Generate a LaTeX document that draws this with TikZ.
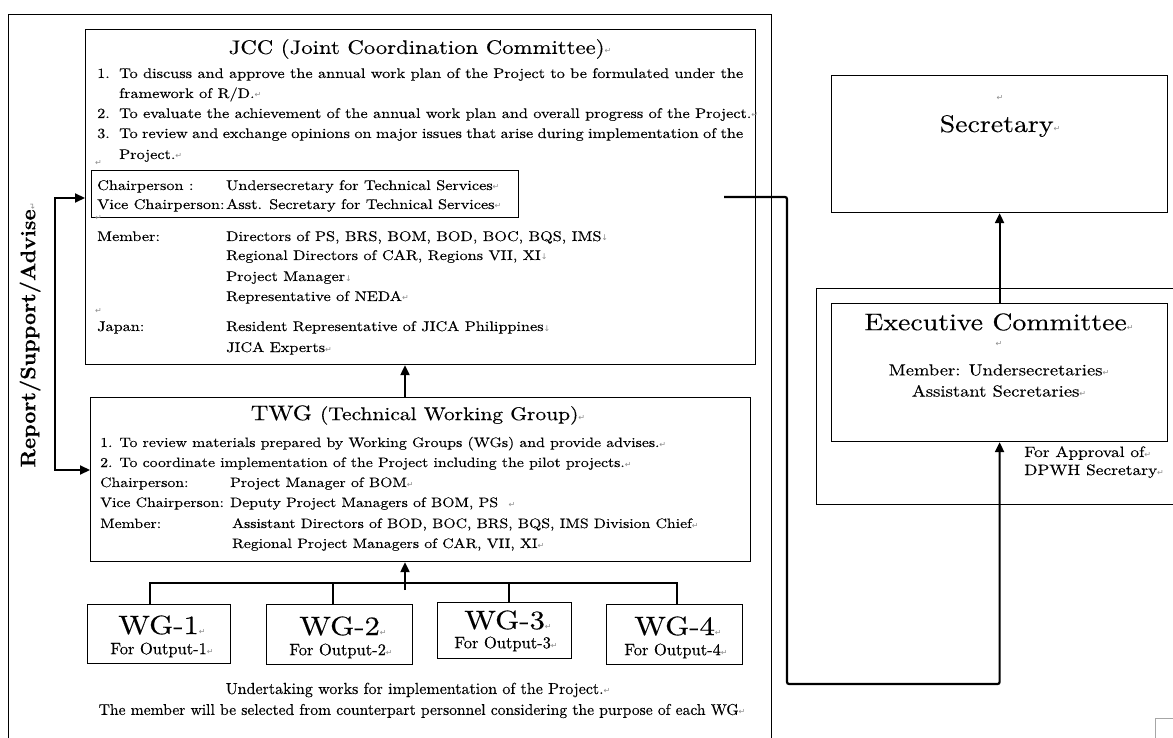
\documentclass[tikz,border=0pt]{standalone}
\usepackage{fontspec}
\setmainfont{lmroman10-regular.otf}[BoldFont=lmroman10-bold.otf, FakeStretch=1.16, FakeBold=0.25]
\newfontfamily\condfont{lmroman10-regular.otf}[FakeBold=0.25]
\newfontfamily\symfont{DejaVu Sans}
\usetikzlibrary{arrows.meta}
\newcommand\rt{{\symfont\fontsize{8}{8}\selectfont\color{black!45}↵}}
\newcommand\dn{{\symfont\fontsize{8}{8}\selectfont\color{black!45}↓}}
\newcommand\bodyf{\fontsize{14}{20}\selectfont}
\newcommand\twgf{\fontsize{13.6}{20}\selectfont}
\tikzset{
  frame/.style={draw, line width=1pt, anchor=north west, inner sep=0pt},
  box/.style={draw, line width=1.2pt, anchor=north west, inner sep=0pt},
  tl/.style={anchor=base west, inner sep=0pt, font=\bodyf},
  tw/.style={anchor=base west, inner sep=0pt, font=\twgf},
  ctr/.style={inner sep=0pt},
  conn/.style={line width=2.2pt},
  tip/.style={-{Triangle[length=10pt,width=9pt]}},
}
\begin{document}
\begin{tikzpicture}[x=1pt,y=-1pt]
\useasboundingbox (0,0) rectangle (1173,738);
\clip (0,0) rectangle (1173,738);
% frames
\node[frame, minimum width=763pt, minimum height=760pt] (leftframe) at (8,14) {};
\node[frame, minimum width=400pt, minimum height=216pt] (execframe) at (816,288) {};
% boxes
\node[box, minimum width=670pt, minimum height=335pt] (jcc) at (85,29) {};
\node[box, minimum width=427pt, minimum height=47pt] (chair) at (91,170) {};
\node[box, minimum width=660pt, minimum height=164pt] (twg) at (90,397) {};
\node[box, minimum width=143pt, minimum height=59pt] (wg1) at (87,604) {};
\node[box, minimum width=146pt, minimum height=60pt] (wg2) at (266,604) {};
\node[box, minimum width=134pt, minimum height=56pt] (wg3) at (437,602) {};
\node[box, minimum width=136pt, minimum height=60pt] (wg4) at (606,604) {};
\node[box, minimum width=336pt, minimum height=137pt] (sec) at (831,75) {};
\node[box, minimum width=336pt, minimum height=138pt] (exec) at (831,303) {};

% JCC text
\node[ctr] (jcct) at (420,49) {\fontsize{19.6}{19.6}\selectfont JCC (Joint Coordination Committee)\rt};
\node[tl] (j1n) at (97,78) {1.};
\node[tl] (j1) at (119,78) {\makebox[624pt][s]{To discuss and approve the annual work plan of the Project to be formulated under the}};
\node[tl] (j1b) at (119,98) {framework of R/D.\rt};
\node[tl] (j2n) at (97,118) {2.};
\node[tl] (j2) at (119,118) {To evaluate the achievement of the annual work plan and overall progress of the Project.\rt};
\node[tl] (j3n) at (97,138) {3.};
\node[tl] (j3) at (119,138) {\makebox[624pt][s]{To review and exchange opinions on major issues that arise during implementation of the}};
\node[tl] (j3b) at (119,159) {Project.\rt};
\node[tl] (jr1) at (95,166) {\rt};
\node[tl] (c1) at (97,190) {Chairperson :};
\node[tl] (c1v) at (226,190) {Undersecretary for Technical Services\rt};
\node[tl] (c2) at (97,209) {Vice Chairperson:};
\node[tl] (c2v) at (226,209) {Asst. Secretary for Technical Services\rt};
\node[tl] (jr2) at (95,221) {\rt};
\node[tl] (m1) at (97,241) {Member:};
\node[tl] (m1v) at (226,241) {Directors of PS, BRS, BOM, BOD, BOC, BQS, IMS\dn};
\node[tl] (m2v) at (226,260) {Regional Directors of CAR, Regions VII, XI\dn};
\node[tl] (m3v) at (226,281) {Project Manager\dn};
\node[tl] (m4v) at (226,301) {Representative of NEDA\rt};
\node[tl] (jr3) at (95,313) {\rt};
\node[tl] (jp) at (97,331) {Japan:};
\node[tl] (jp1) at (226,331) {Resident Representative of JICA Philippines\dn};
\node[tl] (jp2) at (226,352) {JICA Experts\rt};

% TWG text
\node[ctr] (twgt) at (418,415) {\fontsize{21}{21}\selectfont TWG \fontsize{18.5}{18.5}\selectfont(Technical Working Group)\rt};
\node[tw] (t1) at (100,447) {1. To review materials prepared by Working Groups (WGs) and provide advises.\rt};
\node[tw] (t2) at (100,467) {2. To coordinate implementation of the Project including the pilot projects.\rt};
\node[tw] (t3) at (100,487) {Chairperson:};
\node[tw] (t3v) at (230,487) {Project Manager of BOM\rt};
\node[tw] (t4) at (100,507) {Vice Chairperson:};
\node[tw] (t4v) at (230,507) {Deputy Project Managers of BOM, PS \ \rt};
\node[tw] (t5) at (100,528) {Member:};
\node[tw] (t5v) at (232,528) {Assistant Directors of BOD, BOC, BRS, BQS, IMS Division Chief\rt};
\node[tw] (t6v) at (232,548) {Regional Project Managers of CAR, VII, XI\rt};

% WG text
\node[ctr] (wg1a) at (162,625) {\fontsize{26.5}{26.5}\selectfont WG-1\rt};
\node[ctr] (wg1b) at (162,650) {\condfont\fontsize{16.5}{16.5}\selectfont For Output-1\rt};
\node[ctr] (wg2a) at (343,626) {\fontsize{26.5}{26.5}\selectfont WG-2\rt};
\node[ctr] (wg2b) at (341,651) {\condfont\fontsize{16.5}{16.5}\selectfont For Output-2\rt};
\node[ctr] (wg3a) at (508,620) {\fontsize{26.5}{26.5}\selectfont WG-3\rt};
\node[ctr] (wg3b) at (506,644) {\condfont\fontsize{16.5}{16.5}\selectfont For Output-3\rt};
\node[ctr] (wg4a) at (678,626) {\fontsize{26.5}{26.5}\selectfont WG-4\rt};
\node[ctr] (wg4b) at (676,651) {\condfont\fontsize{16.5}{16.5}\selectfont For Output-4\rt};

% bottom notes
\node[ctr] (n1) at (418,690) {\condfont\fontsize{16}{16}\selectfont Undertaking works for implementation of the Project.\rt};
\node[ctr] (n2) at (422,711) {\condfont\fontsize{15.6}{15.6}\selectfont The member will be selected from counterpart personnel considering the purpose of each WG\rt};

% right side text
\node[ctr] (secr) at (1000,98) {\rt};
\node[ctr] (sect) at (1000,126) {\fontsize{24}{24}\selectfont Secretary\rt};
\node[ctr] (exect) at (999,322) {\fontsize{24}{24}\selectfont Executive Committee\rt};
\node[ctr] (execr) at (999,344) {\rt};
\node[ctr] (exm1) at (999,370) {\fontsize{16}{16}\selectfont Member: Undersecretaries\rt};
\node[ctr] (exm2) at (999,391) {\fontsize{16}{16}\selectfont Assistant Secretaries\rt};
\node[anchor=base west, inner sep=0pt] (ap1) at (1024,457) {\fontsize{15}{15}\selectfont For Approval of\rt};
\node[anchor=base west, inner sep=0pt] (ap2) at (1024,475) {\fontsize{15}{15}\selectfont DPWH Secretary\rt};

% side label
\node[rotate=90, inner sep=0pt] (rsa) at (30,335) {\scalebox{0.87}[1]{\bfseries\fontsize{21}{21}\selectfont Report/Support/Advise}\rt};

% connectors
\coordinate (lA) at (55,198);
\coordinate (lB) at (55,470);
\draw[conn, {Triangle[length=10pt,width=9pt]}-{Triangle[length=10pt,width=9pt]}] (lA -| jcc.west) -- (lA) -- (lB) -- (lB -| twg.west);

\coordinate (busc) at (405,583);
\coordinate (busb) at (405,590);
\coordinate (d1) at (150,583);
\coordinate (d2) at (333,583);
\coordinate (d3) at (509,583);
\coordinate (d4) at (677,583);
\draw[conn] (d1 |- wg1.north) -- (d1) -- (d4) -- (d4 |- wg4.north);
\draw[conn] (d2) -- (d2 |- wg2.north);
\draw[conn] (d3) -- (d3 |- wg3.north);
\draw[conn, tip] (busb) -- (busc |- twg.south);
\draw[conn, tip] (busc |- twg.north) -- (busc |- jcc.south);

\coordinate (jccout) at (724,197);
\coordinate (elb) at (787,684);
\draw[conn, tip, rounded corners=2pt] (jccout) -| (elb) -| (exec.south);
\draw[conn, tip] (exec.north) -- (sec.south);

% page corner mark
\draw[black!35, line width=1pt] (1155,738) -- (1155,718) -- (1173,718);
\end{tikzpicture}
\end{document}
